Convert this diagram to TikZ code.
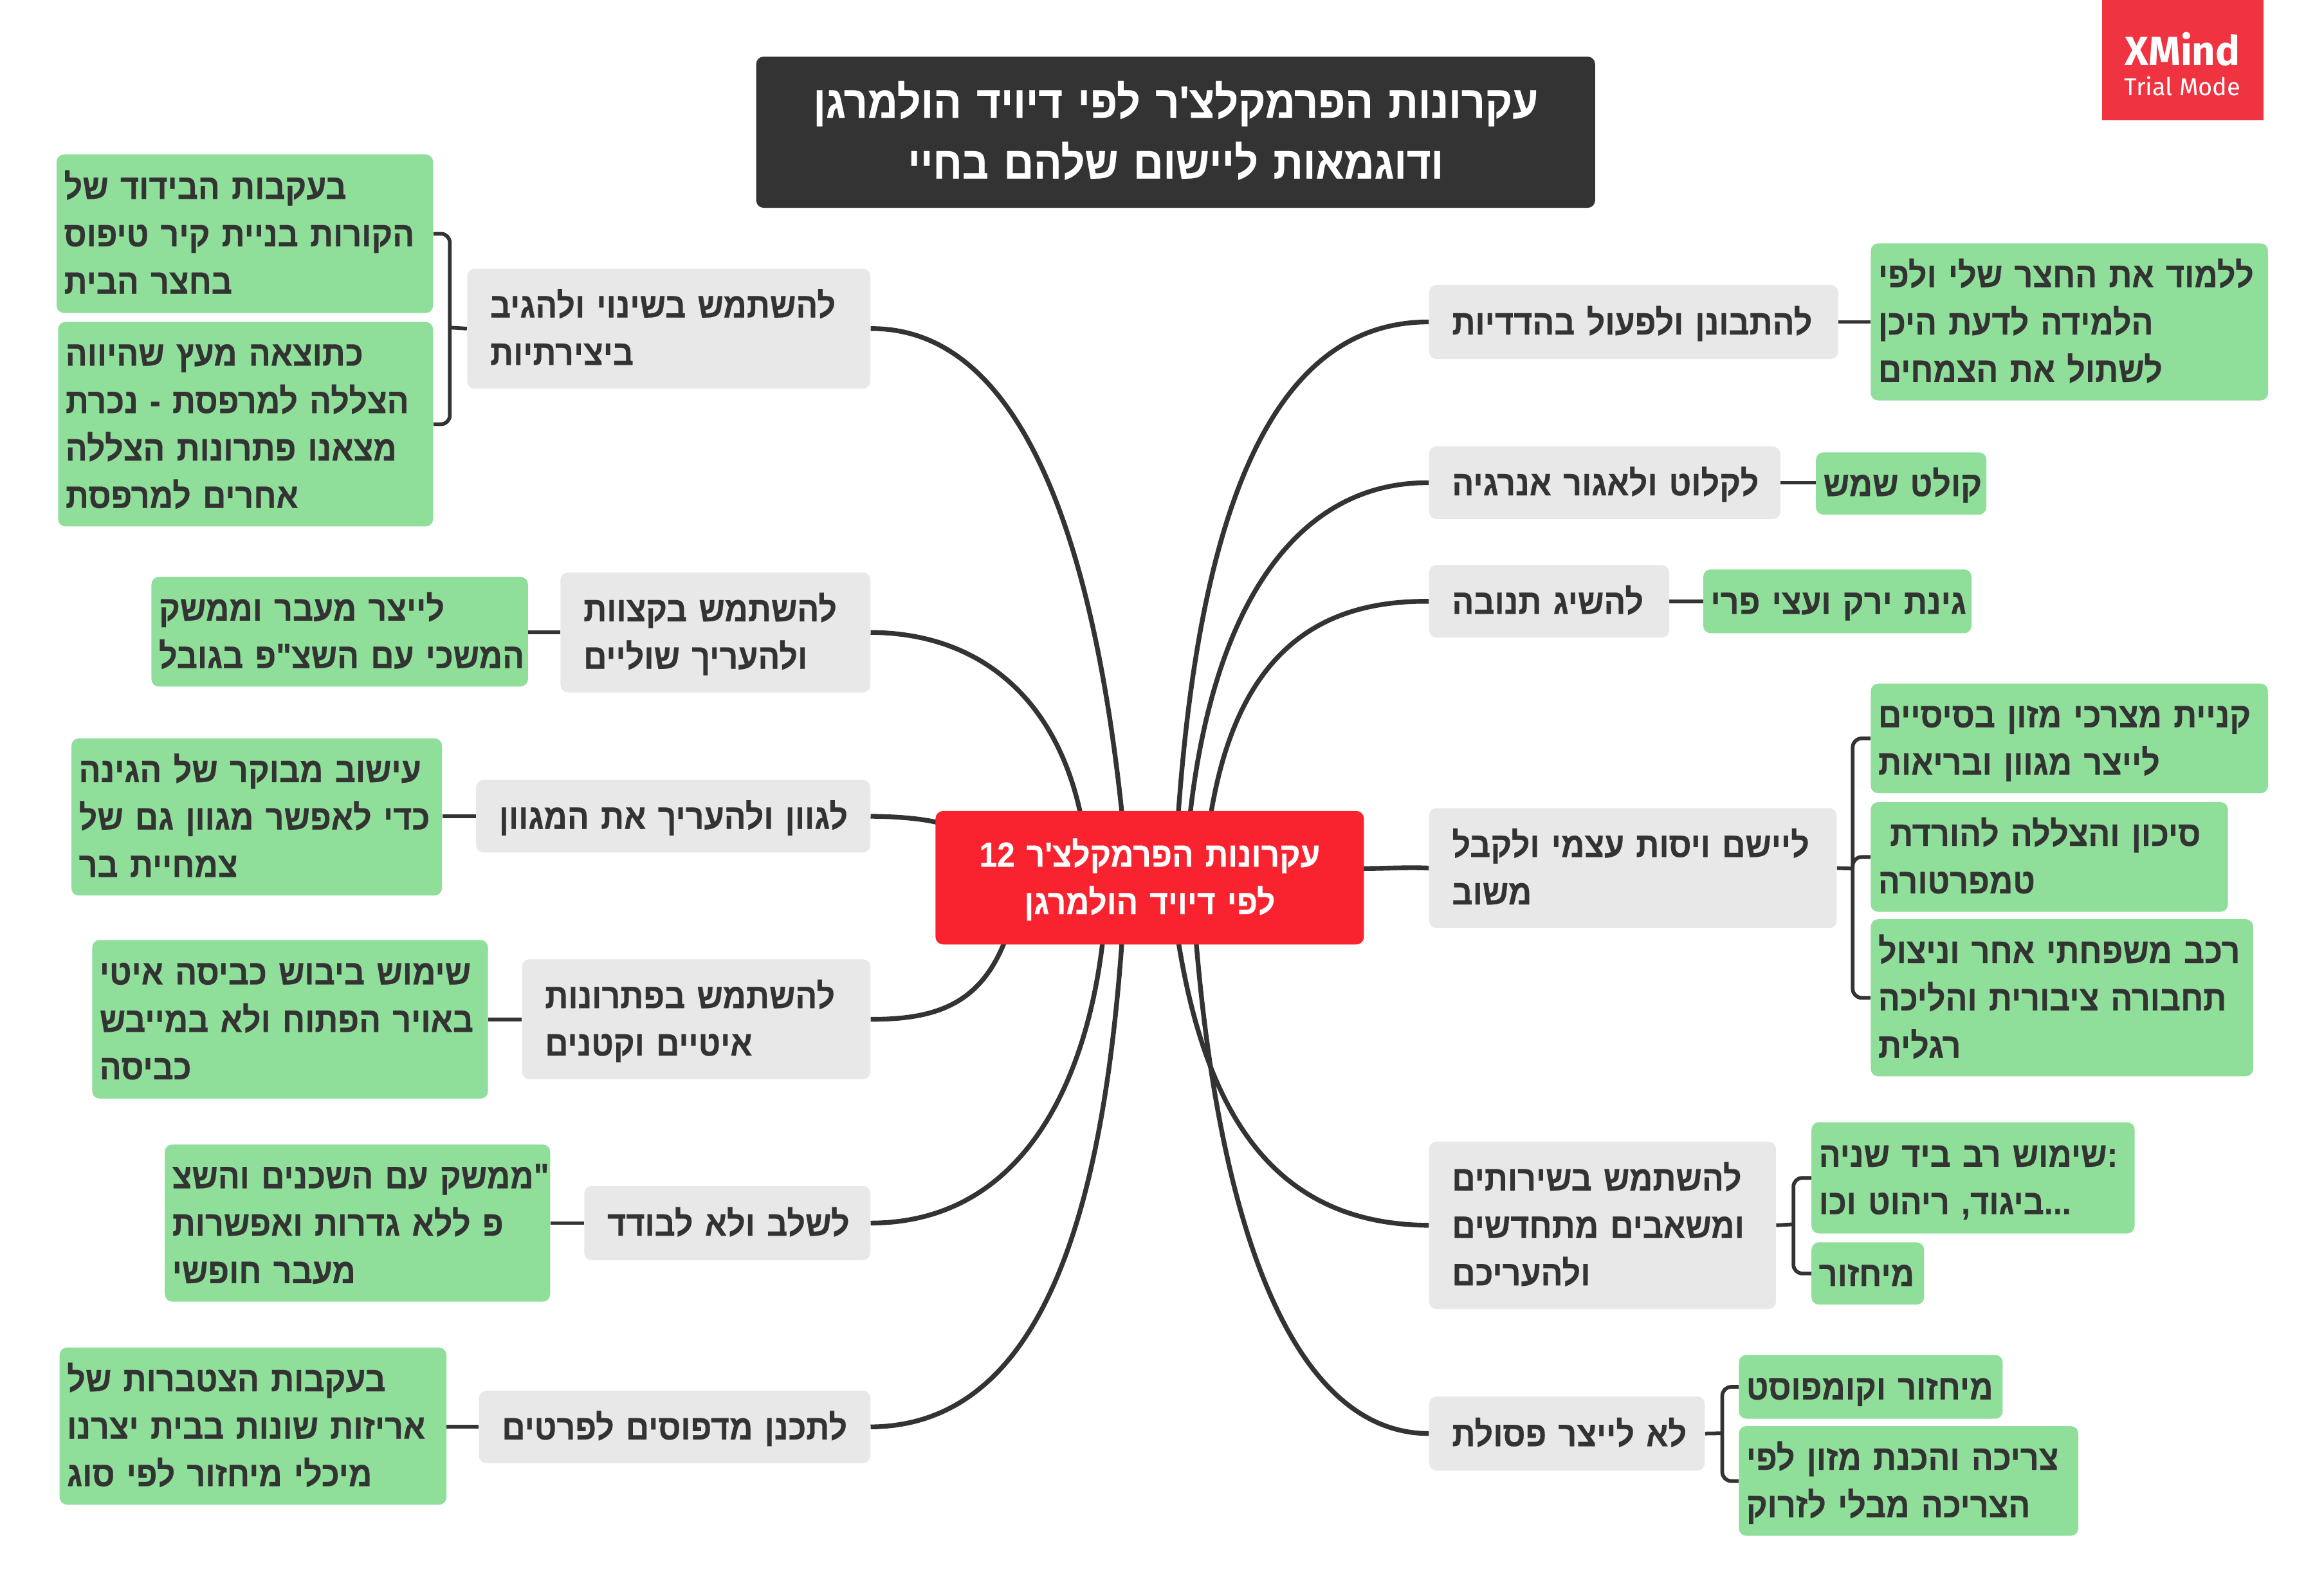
\documentclass[tikz,border=0pt]{standalone}
\usepackage{fontspec}
\usetikzlibrary{backgrounds}
\TeXXeTstate=1
\newfontfamily\hefont[Script=Hebrew,FakeStretch=0.92,BoldFeatures={FakeBold=0.35}]{Liberation Sans}
\newfontfamily\badgefont{Fira Sans}
\definecolor{ink}{HTML}{333333}
\definecolor{leaf}{HTML}{8FDF9A}
\definecolor{topicgrey}{HTML}{E8E8E8}
\definecolor{centerred}{HTML}{F8232F}
\definecolor{badgered}{HTML}{EF3340}
\newcommand\rl[1]{\mbox{\rule[-7.5pt]{0pt}{32pt}\beginR #1\endR}}
% generic box: name, style, padding, x1, y1, x2, y2, text
\newcommand\anybox[8]{\node[#2, anchor=north west, inner xsep=#3pt, inner ysep=0pt,
  minimum width={(#6-#4)*1pt}, minimum height={(#7-#5)*1pt},
  text width={(#6-#4-2*#3)*1pt}] (#1) at (#4,#5) {#8};}
\newcommand\leafbox[6]{\anybox{#1}{leafnode}{5}{#2}{#3}{#4}{#5}{#6}}
\newcommand\topicbox[6]{\anybox{#1}{topicnode}{15.5}{#2}{#3}{#4}{#5}{#6}}
\tikzset{
  boxbase/.style={rounded corners=5pt, align=left, text=ink, font=\hefont\bfseries\fontsize{23.7}{32}\selectfont},
  leafnode/.style={boxbase, fill=leaf},
  topicnode/.style={boxbase, fill=topicgrey},
  branch/.style={draw=ink, line width=3.2pt},
  link/.style={draw=ink, line width=2.5pt},
  bracket/.style={draw=ink, line width=2.5pt, rounded corners=6pt},
}
\begin{document}
\begin{tikzpicture}[x=1pt,y=-1pt]
\useasboundingbox (0,0) rectangle (1568,1074);

% title, badge, centre
\node[rounded corners=5pt, fill=ink, text=white, align=center, anchor=north west, inner sep=0pt,
  minimum width=566pt, minimum height=102pt, text width=566pt,
  font=\hefont\bfseries\fontsize{30.5}{41}\selectfont] (title) at (510,38)
  {\rule{0pt}{29pt}\rl{עקרונות הפרמקלצ'ר לפי דיויד הולמרגן}\\\rl{ודוגמאות ליישום שלהם בחיי}};
\node[fill=badgered, anchor=north west, inner sep=0pt, minimum width=109pt, minimum height=81pt] (badge) at (1418,0) {};
\node[text=white, inner sep=0pt, font=\badgefont\bfseries\fontsize{27.5}{28}\selectfont] (badgeA) at (1472.5,33) {XMind};
\node[text=white, inner sep=0pt, font=\badgefont\fontsize{16.5}{18}\selectfont] (badgeB) at (1472.5,58) {Trial Mode};

\node[rounded corners=5pt, fill=centerred, text=white, align=center, anchor=north west, inner sep=0pt,
  minimum width=289pt, minimum height=90pt, text width=289pt,
  font=\hefont\bfseries\fontsize{23.4}{32}\selectfont] (ctr) at (631,547)
  {\rl{עקרונות הפרמקלצ'ר \beginL 12\endL}\\\rl{לפי דיויד הולמרגן}};

% right side
\topicbox{ra}{964}{192}{1240}{242}{\rl{להתבונן ולפעול בהדדיות}}
\leafbox{raa}{1262}{164}{1530}{270}{\rl{ללמוד את החצר שלי ולפי}\\\rl{הלמידה לדעת היכן}\\\rl{לשתול את הצמחים}}
\topicbox{rb}{964}{301}{1201}{350}{\rl{לקלוט ולאגור אנרגיה}}
\leafbox{rba}{1225}{305}{1340}{347}{\rl{קולט שמש}}
\topicbox{rc}{964}{381}{1126}{430}{\rl{להשיג תנובה}}
\leafbox{rca}{1149}{384}{1330}{427}{\rl{גינת ירק ועצי פרי}}
\topicbox{rd}{964}{545}{1239}{626}{\rl{ליישם ויסות עצמי ולקבל}\\\rl{משוב}}
\leafbox{rda}{1262}{461}{1530}{535}{\rl{קניית מצרכי מזון בסיסיים}\\\rl{לייצר מגוון ובריאות}}
\leafbox{rdb}{1262}{541}{1503}{615}{\rl{סיכון והצללה להורדת\ }\\\rl{טמפרטורה}}
\leafbox{rdc}{1262}{620}{1520}{726}{\rl{רכב משפחתי אחר וניצול}\\\rl{תחבורה ציבורית והליכה}\\\rl{רגלית}}
\topicbox{re}{964}{770}{1198}{883}{\rl{להשתמש בשירותים}\\\rl{ומשאבים מתחדשים}\\\rl{ולהעריכם}}
\leafbox{rea}{1222}{757}{1440}{832}{\rl{:שימוש רב ביד שניה}\\\rl{...ביגוד, ריהוט וכו}}
\leafbox{reb}{1222}{838}{1298}{880}{\rl{מיחזור}}
\topicbox{rf}{964}{942}{1150}{992}{\rl{לא לייצר פסולת}}
\leafbox{rfa}{1173}{914}{1351}{957}{\rl{מיחזור וקומפוסט}}
\leafbox{rfb}{1173}{962}{1402}{1036}{\rl{צריכה והכנת מזון לפי}\\\rl{הצריכה מבלי לזרוק}}

% left side
\topicbox{la}{315}{181}{587}{262}{\rl{להשתמש בשינוי ולהגיב}\\\rl{ביצירתיות}}
\leafbox{laa}{38}{104}{292}{211}{\rl{בעקבות הבידוד של}\\\rl{הקורות בניית קיר טיפוס}\\\rl{בחצר הבית}}
\leafbox{lab}{39}{217}{292}{355}{\rl{כתוצאה מעץ שהיווה}\\\rl{הצללה למרפסת - נכרת}\\\rl{מצאנו פתרונות הצללה}\\\rl{אחרים למרפסת}}
\topicbox{lb}{378}{386}{587}{467}{\rl{להשתמש בקצוות}\\\rl{ולהעריך שוליים}}
\leafbox{lba}{102}{389}{356}{463}{\rl{לייצר מעבר וממשק}\\\rl{המשכי עם השצ"פ בגובל}}
\topicbox{lc}{321}{526}{587}{575}{\rl{לגוון ולהעריך את המגוון}}
\leafbox{lca}{48}{498}{298}{604}{\rl{עישוב מבוקר של הגינה}\\\rl{כדי לאפשר מגוון גם של}\\\rl{צמחיית בר}}
\topicbox{ld}{352}{647}{587}{728}{\rl{להשתמש בפתרונות}\\\rl{איטיים וקטנים}}
\leafbox{lda}{62}{634}{329}{741}{\rl{שימוש ביבוש כביסה איטי}\\\rl{באויר הפתוח ולא במייבש}\\\rl{כביסה}}
\topicbox{le}{394}{800}{587}{850}{\rl{לשלב ולא לבודד}}
\leafbox{lea}{111}{772}{371}{878}{\rl{"ממשק עם השכנים והשצ}\\\rl{פ ללא גדרות ואפשרות}\\\rl{מעבר חופשי}}
\topicbox{lf}{323}{938}{587}{987}{\rl{לתכנן מדפוסים לפרטים}}
\leafbox{lfa}{40}{909}{301}{1015}{\rl{בעקבות הצטברות של}\\\rl{אריזות שונות בבית יצרנו}\\\rl{מיכלי מיחזור לפי סוג}}

% junctions
\coordinate (jla) at (303.5,221);
\coordinate (jrd) at (1250,586);
\coordinate (jre) at (1210,826);
\coordinate (jrf) at (1162,967);
% entry points on the central topic
\coordinate (cla) at (757,549);
\coordinate (clb) at (729,549);
\coordinate (clc) at (633,555);
\coordinate (cld) at (678,635);
\coordinate (cle) at (744,635);
\coordinate (clf) at (757,635);
\coordinate (cra) at (795,549);
\coordinate (crb) at (803,549);
\coordinate (crc) at (817,549);
\coordinate (crd) at (918,586);
\coordinate (cre) at (795,635);
\coordinate (crf) at (807,635);

\begin{scope}[on background layer]
\fill[white] (0,0) rectangle (1568,1074);
% main branches
\draw[branch] (la.east) .. controls (680,221) and (735,340) .. (cla);
\draw[branch] (lb.east) .. controls (660,427) and (712,470) .. (clb);
\draw[branch] (lc.east) .. controls (605,551) and (620,552) .. (clc);
\draw[branch] (ld.east) .. controls (635,688) and (662,675) .. (cld);
\draw[branch] (le.east) .. controls (690,825) and (733,730) .. (cle);
\draw[branch] (lf.east) .. controls (710,962) and (745,800) .. (clf);
\draw[branch] (ra.west) .. controls (860,217) and (810,340) .. (cra);
\draw[branch] (rb.west) .. controls (880,325) and (820,400) .. (crb);
\draw[branch] (rc.west) .. controls (890,405) and (835,440) .. (crc);
\draw[branch] (rd.west) .. controls (950,585) and (935,586) .. (crd);
\draw[branch] (re.west) .. controls (865,826) and (815,760) .. (cre);
\draw[branch] (rf.west) .. controls (880,967) and (825,850) .. (crf);
% single links
\draw[link] (ra.east) -- (ra.east -| raa.west);
\draw[link] (rb.east) -- (rb.east -| rba.west);
\draw[link] (rc.east) -- (rc.east -| rca.west);
\draw[link] (lb.west) -- (lb.west -| lba.east);
\draw[link] (lc.west) -- (lc.west -| lca.east);
\draw[link] (ld.west) -- (ld.west -| lda.east);
\draw[link] (le.west) -- (le.west -| lea.east);
\draw[link] (lf.west) -- (lf.west -| lfa.east);
% brackets
\draw[link] (la.west) -- (jla);
\draw[bracket] (laa.east) -| (jla) |- (lab.east);
\draw[link] (rd.east) -- (jrd);
\draw[bracket] (rda.west) -| (jrd) |- (rdc.west);
\draw[bracket] (rdb.west) -| (jrd);
\draw[link] (re.east) -- (jre);
\draw[bracket] (rea.west) -| (jre) |- (reb.west);
\draw[link] (rf.east) -- (jrf);
\draw[bracket] (rfa.west) -| (jrf) |- (rfb.west);
\end{scope}
\end{tikzpicture}
\end{document}
